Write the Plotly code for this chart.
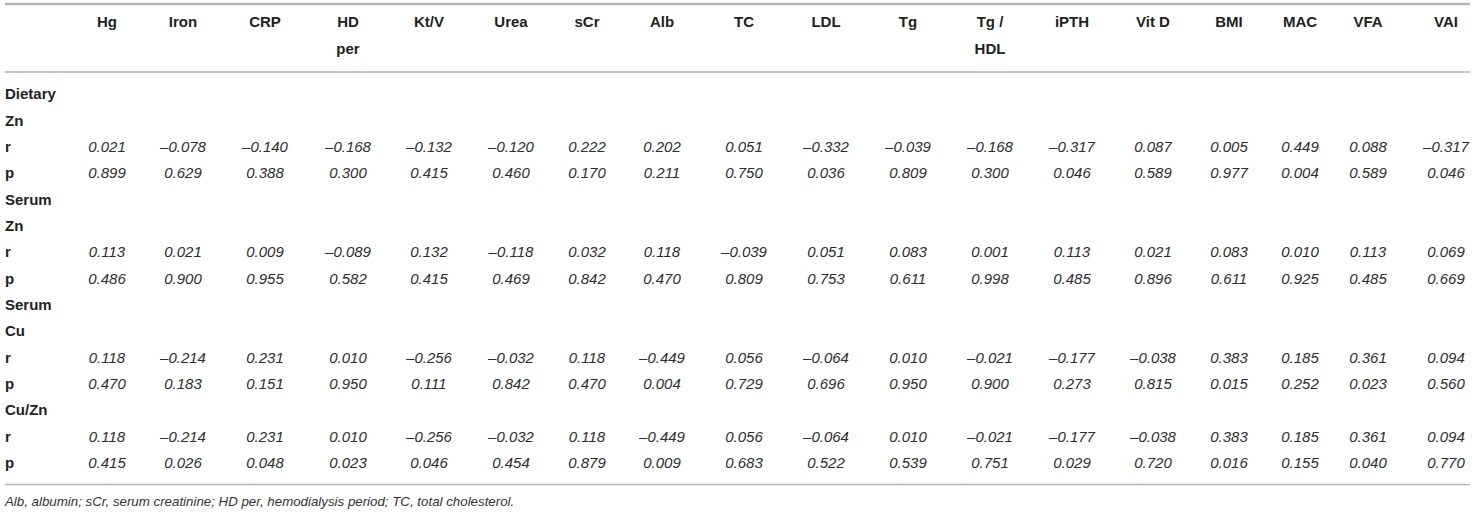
import plotly.graph_objects as go

# ---- data ----
columns_line1 = ["Hg", "Iron", "CRP", "HD", "Kt/V", "Urea", "sCr", "Alb", "TC", "LDL",
                 "Tg", "Tg /", "iPTH", "Vit D", "BMI", "MAC", "VFA", "VAI"]
columns_line2 = ["", "", "", "per", "", "", "", "", "", "", "", "HDL", "", "", "", "", "", ""]

groups = [("Dietary", "Zn"), ("Serum", "Zn"), ("Serum", "Cu"), ("Cu/Zn", None)]

dietary_zn_r = [0.021, -0.078, -0.140, -0.168, -0.132, -0.120, 0.222, 0.202, 0.051, -0.332,
                -0.039, -0.168, -0.317, 0.087, 0.005, 0.449, 0.088, -0.317]
dietary_zn_p = [0.899, 0.629, 0.388, 0.300, 0.415, 0.460, 0.170, 0.211, 0.750, 0.036,
                0.809, 0.300, 0.046, 0.589, 0.977, 0.004, 0.589, 0.046]
serum_zn_r = [0.113, 0.021, 0.009, -0.089, 0.132, -0.118, 0.032, 0.118, -0.039, 0.051,
              0.083, 0.001, 0.113, 0.021, 0.083, 0.010, 0.113, 0.069]
serum_zn_p = [0.486, 0.900, 0.955, 0.582, 0.415, 0.469, 0.842, 0.470, 0.809, 0.753,
              0.611, 0.998, 0.485, 0.896, 0.611, 0.925, 0.485, 0.669]
serum_cu_r = [0.118, -0.214, 0.231, 0.010, -0.256, -0.032, 0.118, -0.449, 0.056, -0.064,
              0.010, -0.021, -0.177, -0.038, 0.383, 0.185, 0.361, 0.094]
serum_cu_p = [0.470, 0.183, 0.151, 0.950, 0.111, 0.842, 0.470, 0.004, 0.729, 0.696,
              0.950, 0.900, 0.273, 0.815, 0.015, 0.252, 0.023, 0.560]
cu_zn_r = [0.118, -0.214, 0.231, 0.010, -0.256, -0.032, 0.118, -0.449, 0.056, -0.064,
           0.010, -0.021, -0.177, -0.038, 0.383, 0.185, 0.361, 0.094]
cu_zn_p = [0.415, 0.026, 0.048, 0.023, 0.046, 0.454, 0.879, 0.009, 0.683, 0.522,
           0.539, 0.751, 0.029, 0.720, 0.016, 0.155, 0.040, 0.770]

group_values = [(dietary_zn_r, dietary_zn_p), (serum_zn_r, serum_zn_p),
                (serum_cu_r, serum_cu_p), (cu_zn_r, cu_zn_p)]

footnote = "Alb, albumin; sCr, serum creatinine; HD per, hemodialysis period; TC, total cholesterol."

# ---- layout (pixel geometry) ----
W, H = 1475, 514
col_x = [107, 183, 265, 348, 429, 511, 587, 662, 744, 826, 908, 990, 1072, 1153, 1229, 1300, 1368, 1446]
label_x = 5
header_y1, header_y2 = 23.5, 50.5
first_row_y = 95.5
row_step = 26.35

FONT = "Liberation Sans, Arial, Helvetica, sans-serif"
TXT = "#222222"
LINE = "#b4b4b4"


def fmt(v):
    return f"{v:.3f}".replace("-", "\u2013")


fig = go.Figure()

# headers
fig.add_trace(go.Scatter(x=col_x, y=[header_y1] * len(col_x), text=columns_line1, mode="text",
                         textposition="middle center",
                         textfont=dict(family=FONT, size=15, color=TXT, weight="bold"),
                         hoverinfo="skip", cliponaxis=False))
sx = [x for x, t in zip(col_x, columns_line2) if t]
st = [t for t in columns_line2 if t]
fig.add_trace(go.Scatter(x=sx, y=[header_y2] * len(sx), text=st, mode="text",
                         textposition="middle center",
                         textfont=dict(family=FONT, size=15, color=TXT, weight="bold"),
                         hoverinfo="skip", cliponaxis=False))

# body rows
lab_y, lab_t = [], []
val_x, val_y, val_t = [], [], []
row = 0
for (g1, g2), (rv, pv) in zip(groups, group_values):
    for g in (g1, g2):
        if g:
            lab_y.append(first_row_y + row * row_step)
            lab_t.append(g)
            row += 1
    for name, vals in (("r", rv), ("p", pv)):
        y = first_row_y + row * row_step
        lab_y.append(y)
        lab_t.append(name)
        for x, v in zip(col_x, vals):
            val_x.append(x)
            val_y.append(y)
            val_t.append(fmt(v))
        row += 1

fig.add_trace(go.Scatter(x=[label_x] * len(lab_y), y=lab_y, text=lab_t, mode="text",
                         textposition="middle right",
                         textfont=dict(family=FONT, size=15, color=TXT, weight="bold"),
                         hoverinfo="skip", cliponaxis=False))
fig.add_trace(go.Scatter(x=val_x, y=val_y, text=val_t, mode="text",
                         textposition="middle center",
                         textfont=dict(family=FONT, size=15, color="#2e2e2e", style="italic"),
                         hoverinfo="skip", cliponaxis=False))

fig.add_trace(go.Scatter(x=[label_x], y=[503], text=[footnote], mode="text",
                         textposition="middle right",
                         textfont=dict(family=FONT, size=13.3, color="#333333", style="italic"),
                         hoverinfo="skip", cliponaxis=False))

# rules
fig.add_shape(type="line", x0=5, x1=1470, y0=4, y1=4, line=dict(color=LINE, width=2.5))
fig.add_shape(type="line", x0=5, x1=1470, y0=72, y1=72, line=dict(color=LINE, width=1.6))
fig.add_shape(type="line", x0=5, x1=1470, y0=484.5, y1=484.5, line=dict(color=LINE, width=1.6))

fig.update_layout(
    width=W, height=H,
    margin=dict(l=0, r=0, t=0, b=0),
    paper_bgcolor="white", plot_bgcolor="white",
    showlegend=False,
    xaxis=dict(range=[0, W], visible=False, fixedrange=True),
    yaxis=dict(range=[H, 0], visible=False, fixedrange=True),
)

fig.write_html("out.html",
               config={"displayModeBar": False, "staticPlot": True},
               post_script="document.body.style.margin='0';document.body.style.overflow='hidden';")
